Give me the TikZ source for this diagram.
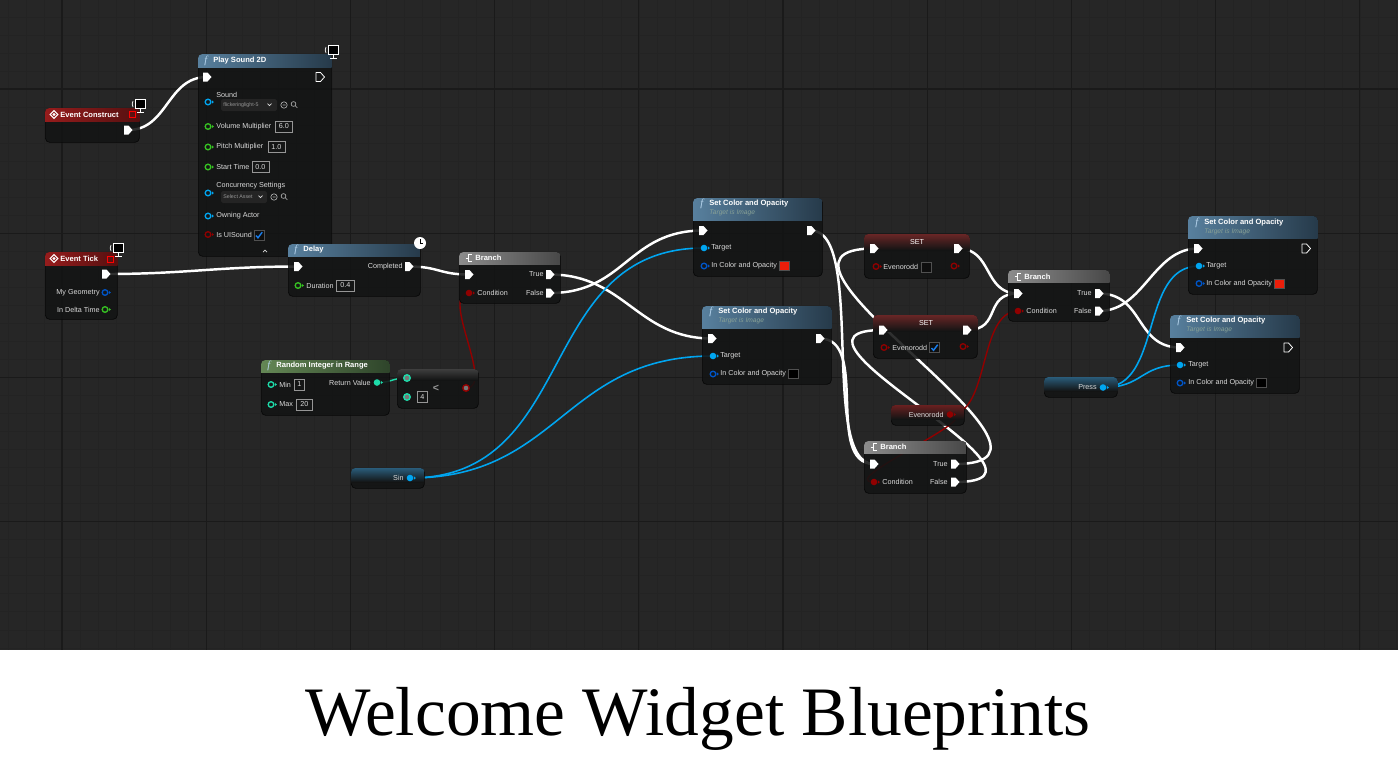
\documentclass[tikz,border=0pt]{standalone}
\usepackage{fontspec}
\setmainfont{Liberation Serif}
\newfontfamily\uifont{Liberation Sans}
\usepackage{tikz}
\usetikzlibrary{calc,positioning}
\pgfdeclarelayer{grid}
\pgfdeclarelayer{wires}
\pgfsetlayers{grid,wires,main}

\definecolor{bpbg}{RGB}{38,38,38}
\definecolor{bpminor}{RGB}{35,35,35}
\definecolor{bpmajor}{RGB}{26,26,26}
\definecolor{bpbody}{RGB}{19,20,20}
\definecolor{bpedge}{RGB}{8,8,8}
\definecolor{bptext}{RGB}{218,218,218}
\definecolor{bpsub}{RGB}{135,160,150}
\definecolor{bpval}{RGB}{150,150,150}
\definecolor{bpline}{RGB}{80,80,80}
\definecolor{bpdd}{RGB}{36,36,36}
\definecolor{bpchk}{RGB}{14,14,14}
\definecolor{fnhi}{RGB}{88,128,158}
\definecolor{fnlo}{RGB}{38,58,74}
\definecolor{fnicon}{RGB}{185,215,240}
\definecolor{evhi}{RGB}{150,28,28}
\definecolor{evlo}{RGB}{85,16,16}
\definecolor{brhi}{RGB}{140,140,140}
\definecolor{brlo}{RGB}{72,72,72}
\definecolor{mthi}{RGB}{100,135,85}
\definecolor{mtlo}{RGB}{46,68,42}
\definecolor{sethi}{RGB}{105,38,38}
\definecolor{lthi}{RGB}{62,62,62}
\definecolor{gethi}{RGB}{42,92,122}
\definecolor{geterd}{RGB}{105,32,32}
\definecolor{pinobj}{RGB}{0,165,240}
\definecolor{pinstruct}{RGB}{0,85,200}
\definecolor{pinfloat}{RGB}{55,195,35}
\definecolor{pinbool}{RGB}{145,0,0}
\definecolor{pinint}{RGB}{30,220,170}
\definecolor{pingray}{RGB}{120,120,120}
\definecolor{swred}{RGB}{235,30,10}
\definecolor{chkblue}{RGB}{25,125,235}

\newcommand{\lblfont}{\uifont\fontsize{4.1}{5}\selectfont}
\newcommand{\hdrfont}{\uifont\bfseries\fontsize{4.3}{5}\selectfont}
\newcommand{\subfont}{\uifont\itshape\fontsize{3.8}{4.5}\selectfont}
\newcommand{\ddfont}{\uifont\fontsize{3}{3.5}\selectfont}

\tikzset{
  bpnode/.style={draw=bpedge, fill=bpbody, fill opacity=0.88, rounded corners=2.5pt, inner sep=0pt, anchor=north west},
  lbl/.style={font=\lblfont, text=bptext, inner sep=0pt, anchor=west},
  lblr/.style={lbl, anchor=east},
  hdr/.style={font=\hdrfont, text=white, inner sep=0pt, anchor=west},
  subhdr/.style={font=\subfont, text=bpsub, inner sep=0pt, anchor=west},
  fn/.style={font=\itshape\fontsize{6}{6}\selectfont, text=fnicon, inner sep=0pt, anchor=west},
  valbox/.style={draw=bpval, line width=0.35pt, font=\lblfont, text=bptext, inner sep=0pt,
    minimum height=11*0.02cm, minimum width=#1*0.02cm, anchor=west},
  ddtext/.style={font=\ddfont, text=bpval, inner sep=0pt, anchor=west},
  execwire/.style={white, line width=1.4pt},
  boolwire/.style={pinbool, line width=0.8pt},
  intwire/.style={pinint, line width=0.8pt},
  objwire/.style={pinobj, line width=0.9pt},
  execpin/.pic={\fill[white] (-4,-4.5) -- (0.5,-4.5) -- (4.5,0) -- (0.5,4.5) -- (-4,4.5) -- cycle;},
  execopen/.pic={\draw[white, line width=0.45pt, line join=round] (-4,-4.5) -- (0.5,-4.5) -- (4.5,0) -- (0.5,4.5) -- (-4,4.5) -- cycle;},
  datapin/.pic={\fill[#1] (0,0) circle (3.3); \fill[#1] (3.8,-1.8) -- (5.8,0) -- (3.8,1.8) -- cycle;},
  dataopen/.pic={\draw[#1, line width=0.75pt] (0,0) circle (2.8); \fill[#1] (3.8,-1.8) -- (5.8,0) -- (3.8,1.8) -- cycle;},
  ringpin/.pic={\fill[#1] (0,0) circle (4); \fill[pingray] (0,0) circle (2.3);},
  evicon/.pic={\draw[white, line width=0.6pt] (0,-3.8) -- (3.8,0) -- (0,3.8) -- (-3.8,0) -- cycle; \fill[white] (0,-1.6) -- (1.6,0) -- (0,1.6) -- (-1.6,0) -- cycle;},
  bricon/.pic={\draw[white, line width=0.55pt] (-3.5,0) -- (-1,0) (2.5,-3.5) -- (-1,-3.5) -- (-1,3.5) -- (2.5,3.5);},
  monicon/.pic={\fill[white] (-5,-7) rectangle (6,3); \fill[black] (-3.6,-5.6) rectangle (4.6,1.6);
    \fill[white] (0,3) rectangle (1.2,5.5); \fill[white] (-3,5.5) rectangle (4.2,6.6);
    \draw[white, line width=0.4pt] (-7,-5) -- (-7.8,-2) -- (-7,1);},
  clockicon/.pic={\fill[white] (0,0) circle (6); \draw[black, line width=0.45pt] (0,-4) -- (0,0) -- (3,0);},
  chkoff/.pic={\fill[bpchk] (-5,-5) rectangle (5,5); \draw[bpline, line width=0.3pt] (-5,-5) rectangle (5,5);},
  chkon/.pic={\fill[bpchk] (-5,-5) rectangle (5,5); \draw[bpline, line width=0.3pt] (-5,-5) rectangle (5,5);
    \draw[chkblue, line width=0.8pt] (-3,0.5) -- (-1,2.8) -- (3.2,-2.8);},
  swatch/.pic={\fill[#1] (-5,-4.5) rectangle (5,4.5); \draw[bpline, line width=0.3pt] (-5,-4.5) rectangle (5,4.5);},
}

% node body and its coloured band
\newcommand{\bpbox}[5]{\node[bpnode, minimum width=#4*0.02cm, minimum height=#5*0.02cm] (#1) at (#2,#3) {};}
\newcommand{\bphead}[4]{%
  \begin{scope}
    \clip[rounded corners=2.5pt] (#1.north west) rectangle (#1.south east);
    \shade[left color=#3, right color=#4] (#1.north west) rectangle ($(#1.north east)+(0,#2)$);
  \end{scope}}
\newcommand{\bpglow}[3]{%
  \begin{scope}
    \clip[rounded corners=2.5pt] (#1.north west) rectangle (#1.south east);
    \shade[top color=#3, bottom color=bpbody] (#1.north west) rectangle ($(#1.north east)+(0,#2)$);
  \end{scope}}

\begin{document}
\begin{tikzpicture}[x=0.02cm, y=-0.02cm]
\useasboundingbox (0,0) rectangle (1398,762);

\begin{pgfonlayer}{grid}
  \fill[bpbg] (0,0) rectangle (1398,650);
  \begin{scope}
    \clip (0,0) rectangle (1398,650);
    \foreach \k in {-4,...,75} \draw[bpminor, line width=0.3pt] (62+\k*18.025,0) -- (62+\k*18.025,650);
    \foreach \k in {-5,...,32} \draw[bpminor, line width=0.3pt] (0,89+\k*18.025) -- (1398,89+\k*18.025);
    \foreach \k in {0,...,9} \draw[bpmajor, line width=0.6pt] (62+\k*144.2,0) -- (62+\k*144.2,650);
    \foreach \k in {0,...,3} \draw[bpmajor, line width=0.6pt] (0,89+\k*144.2) -- (1398,89+\k*144.2);
  \end{scope}
  \fill[white] (0,650) rectangle (1398,762);
\end{pgfonlayer}

% Event Construct
\bpbox{evc}{45}{108}{94}{34}
\bphead{evc}{13}{evhi}{evlo}
\pic at (54,114.5) {evicon};
\node[hdr] at (60,114.5) {Event Construct};
\draw[red, line width=0.5pt] (129,111.5) rectangle (135,117.5);
\pic at (140,106) {monicon};
\coordinate (evc-out) at (128,130); \pic at (evc-out) {execpin};

% Play Sound 2D
\bpbox{ps}{198}{54}{133}{202}
\bphead{ps}{13}{fnhi}{fnlo}
\node[fn] at (204,60.5) {f};
\node[hdr] at (213,60.5) {Play Sound 2D};
\pic at (333,52) {monicon};
\coordinate (ps-in) at (207,77); \pic at (ps-in) {execpin};
\pic at (320,77) {execopen};
\node[lbl] at (216,94.5) {Sound};
\pic at (208,102) {dataopen=pinobj};
\fill[bpdd, rounded corners=1pt] (221,99) rectangle (277,111);
\node[ddtext] at (223,105) {flickeringlight-5};
\draw[bptext, line width=0.4pt] (267.5,103.5) -- (269.5,105.5) -- (271.5,103.5);
\draw[bpval!70, line width=0.35pt] (284,105) circle (3.2) (282.5,105) -- (285.5,105);
\draw[bpval!70, line width=0.35pt] (293.5,104) circle (2.4) (295.3,105.8) -- (297.3,107.8);
\pic at (208,126.5) {dataopen=pinfloat};
\node[lbl] at (216,126.5) {Volume Multiplier};
\node[valbox=17] at (275,126.5) {6.0};
\pic at (208,147) {dataopen=pinfloat};
\node[lbl] at (216,147) {Pitch Multiplier};
\node[valbox=17] at (267.5,147) {1.0};
\pic at (208,167) {dataopen=pinfloat};
\node[lbl] at (216,167) {Start Time};
\node[valbox=17] at (251.5,167) {0.0};
\node[lbl] at (216,186) {Concurrency Settings};
\pic at (208,193) {dataopen=pinobj};
\fill[bpdd, rounded corners=1pt] (221,191) rectangle (267,203);
\node[ddtext] at (223,197) {Select Asset};
\draw[bptext, line width=0.4pt] (258.5,195.5) -- (260.5,197.5) -- (262.5,195.5);
\draw[bpval!70, line width=0.35pt] (274,197) circle (3.2) (272.5,197) -- (275.5,197);
\draw[bpval!70, line width=0.35pt] (283.5,196) circle (2.4) (285.3,197.8) -- (287.3,199.8);
\pic at (208,216) {dataopen=pinobj};
\node[lbl] at (216,216) {Owning Actor};
\pic at (208,234.5) {dataopen=pinbool};
\node[lbl] at (216,234.5) {Is UISound};
\pic at (259,235) {chkon};
\draw[bptext, line width=0.4pt] (263,252) -- (265,250) -- (267,252);

% Event Tick
\bpbox{evt}{45}{252}{72}{67}
\bphead{evt}{13}{evhi}{evlo}
\pic at (54,258.5) {evicon};
\node[hdr] at (60,258.5) {Event Tick};
\draw[red, line width=0.5pt] (107,256) rectangle (113,262);
\pic at (118,250) {monicon};
\coordinate (evt-out) at (106,274); \pic at (evt-out) {execpin};
\node[lblr] at (100,292.5) {My Geometry};
\pic at (105,292.5) {dataopen=pinstruct};
\node[lblr] at (100,309.5) {In Delta Time};
\pic at (105,309.5) {dataopen=pinfloat};

% Delay
\bpbox{dl}{288}{244}{132}{52}
\bphead{dl}{12}{fnhi}{fnlo}
\node[fn] at (294,250) {f};
\node[hdr] at (303,250) {Delay};
\pic at (420,243) {clockicon};
\coordinate (dl-in) at (298,266.5); \pic at (dl-in) {execpin};
\node[lblr] at (403,266.5) {Completed};
\coordinate (dl-out) at (409,266.5); \pic at (dl-out) {execpin};
\pic at (298,285.5) {dataopen=pinfloat};
\node[lbl] at (306,285.5) {Duration};
\node[valbox=18] at (336,285.5) {0.4};

% Branch after Delay
\bpbox{br1}{459}{252}{101}{51}
\bphead{br1}{12}{brhi}{brlo}
\pic at (469,258) {bricon};
\node[hdr] at (475,258) {Branch};
\coordinate (br1-in) at (469,274.5); \pic at (br1-in) {execpin};
\node[lblr] at (544,274.5) {True};
\coordinate (br1-true) at (550,274.5); \pic at (br1-true) {execpin};
\coordinate (br1-cond) at (469,293); \pic at (br1-cond) {datapin=pinbool};
\node[lbl] at (477,293) {Condition};
\node[lblr] at (544,293) {False};
\coordinate (br1-false) at (550,293); \pic at (br1-false) {execpin};

% Random Integer in Range
\bpbox{ri}{261}{360}{128}{55}
\bphead{ri}{12}{mthi}{mtlo}
\node[fn] at (267,366) {f};
\node[hdr] at (276,366) {Random Integer in Range};
\pic at (271,384.5) {dataopen=pinint};
\node[lbl] at (279,384.5) {Min};
\node[valbox=10] at (294,384.5) {1};
\pic at (271,404.5) {dataopen=pinint};
\node[lbl] at (279,404.5) {Max};
\node[valbox=16] at (296,404.5) {20};
\node[lblr] at (371,382.5) {Return Value};
\coordinate (ri-out) at (377,382.5); \pic at (ri-out) {datapin=pinint};

% less than
\bpbox{lt}{397}{369}{81}{39}
\bpglow{lt}{11}{lthi}
\coordinate (lt-a) at (407,378); \pic at (lt-a) {ringpin=pinint};
\pic at (407,397) {ringpin=pinint};
\node[valbox=10] at (417,397) {4};
\node[font=\uifont\bfseries\fontsize{6}{6}\selectfont, text=bpval, inner sep=0pt] at (436,388) {<};
\coordinate (lt-out) at (466,388); \pic at (lt-out) {ringpin=pinbool};

% Sin variable
\bpbox{sin}{351}{468}{73}{20}
\bpglow{sin}{14}{gethi}
\node[lblr] at (404,478) {Sin};
\coordinate (sin-out) at (410,478); \pic at (sin-out) {datapin=pinobj};

% Set Color and Opacity, top
\bpbox{sco1}{693}{198}{129}{78}
\bphead{sco1}{22}{fnhi}{fnlo}
\node[fn] at (700,204) {f};
\node[hdr] at (709,204) {Set Color and Opacity};
\node[subhdr] at (709,213) {Target is Image};
\coordinate (sco1-in) at (703,230.5); \pic at (sco1-in) {execpin};
\coordinate (sco1-out) at (811,230.5); \pic at (sco1-out) {execpin};
\coordinate (sco1-tgt) at (704,248); \pic at (sco1-tgt) {datapin=pinobj};
\node[lbl] at (711,248) {Target};
\pic at (704,266) {dataopen=pinstruct};
\node[lbl] at (711,266) {In Color and Opacity};
\pic at (784,266) {swatch=swred};

% Set Color and Opacity, bottom
\bpbox{sco2}{702}{306}{129}{78}
\bphead{sco2}{22}{fnhi}{fnlo}
\node[fn] at (709,312) {f};
\node[hdr] at (718,312) {Set Color and Opacity};
\node[subhdr] at (718,321) {Target is Image};
\coordinate (sco2-in) at (712,338.5); \pic at (sco2-in) {execpin};
\coordinate (sco2-out) at (820,338.5); \pic at (sco2-out) {execpin};
\coordinate (sco2-tgt) at (713,356); \pic at (sco2-tgt) {datapin=pinobj};
\node[lbl] at (720,356) {Target};
\pic at (713,374) {dataopen=pinstruct};
\node[lbl] at (720,374) {In Color and Opacity};
\pic at (793.5,374) {swatch=black};

% SET false
\bpbox{set1}{864}{234}{105}{44}
\bpglow{set1}{16}{sethi}
\node[hdr, anchor=center, font=\lblfont] at (917,242) {SET};
\coordinate (set1-in) at (874,248.5); \pic at (set1-in) {execpin};
\coordinate (set1-out) at (958,248.5); \pic at (set1-out) {execpin};
\pic at (876,266.5) {dataopen=pinbool};
\node[lbl] at (883,266.5) {Evenorodd};
\pic at (926,267) {chkoff};
\pic at (954,266) {dataopen=pinbool};

% SET true
\bpbox{set2}{873}{315}{104}{43}
\bpglow{set2}{16}{sethi}
\node[hdr, anchor=center, font=\lblfont] at (926,323.5) {SET};
\coordinate (set2-in) at (883,330); \pic at (set2-in) {execpin};
\coordinate (set2-out) at (967,330); \pic at (set2-out) {execpin};
\pic at (884,347.5) {dataopen=pinbool};
\node[lbl] at (892,347.5) {Evenorodd};
\pic at (934.5,347.5) {chkon};
\pic at (963,346.5) {dataopen=pinbool};

% Evenorodd variable
\bpbox{eo}{891}{405}{73}{20}
\bpglow{eo}{14}{geterd}
\node[lblr] at (944,414.5) {Evenorodd};
\coordinate (eo-out) at (950,414.5); \pic at (eo-out) {datapin=pinbool};

% Branch on Evenorodd
\bpbox{br3}{864}{441}{102}{52}
\bphead{br3}{12}{brhi}{brlo}
\pic at (874,447) {bricon};
\node[hdr] at (880,447) {Branch};
\coordinate (br3-in) at (874,464); \pic at (br3-in) {execpin};
\node[lblr] at (948,464) {True};
\coordinate (br3-true) at (955,464); \pic at (br3-true) {execpin};
\coordinate (br3-cond) at (874,482); \pic at (br3-cond) {datapin=pinbool};
\node[lbl] at (882,482) {Condition};
\node[lblr] at (948,482) {False};
\coordinate (br3-false) at (955,482); \pic at (br3-false) {execpin};

% Branch after SET
\bpbox{br4}{1008}{270}{101}{51}
\bphead{br4}{12}{brhi}{brlo}
\pic at (1018,276.5) {bricon};
\node[hdr] at (1024,276.5) {Branch};
\coordinate (br4-in) at (1018,293.5); \pic at (br4-in) {execpin};
\node[lblr] at (1092,293.5) {True};
\coordinate (br4-true) at (1099,293.5); \pic at (br4-true) {execpin};
\coordinate (br4-cond) at (1018,311); \pic at (br4-cond) {datapin=pinbool};
\node[lbl] at (1026,311) {Condition};
\node[lblr] at (1092,311) {False};
\coordinate (br4-false) at (1099,311); \pic at (br4-false) {execpin};

% Set Color and Opacity, right top
\bpbox{sco3}{1188}{216}{129}{78}
\bphead{sco3}{22}{fnhi}{fnlo}
\node[fn] at (1195,222.5) {f};
\node[hdr] at (1204,222.5) {Set Color and Opacity};
\node[subhdr] at (1204,231.5) {Target is Image};
\coordinate (sco3-in) at (1198,248.5); \pic at (sco3-in) {execpin};
\pic at (1306,248.5) {execopen};
\coordinate (sco3-tgt) at (1199,266); \pic at (sco3-tgt) {datapin=pinobj};
\node[lbl] at (1206,266) {Target};
\pic at (1199,283.5) {dataopen=pinstruct};
\node[lbl] at (1206,283.5) {In Color and Opacity};
\pic at (1279,283.5) {swatch=swred};

% Set Color and Opacity, right bottom
\bpbox{sco4}{1170}{315}{129}{78}
\bphead{sco4}{22}{fnhi}{fnlo}
\node[fn] at (1177,321) {f};
\node[hdr] at (1186,321) {Set Color and Opacity};
\node[subhdr] at (1186,330) {Target is Image};
\coordinate (sco4-in) at (1180,347.5); \pic at (sco4-in) {execpin};
\pic at (1288,347.5) {execopen};
\coordinate (sco4-tgt) at (1180,365); \pic at (sco4-tgt) {datapin=pinobj};
\node[lbl] at (1188,365) {Target};
\pic at (1180,383) {dataopen=pinstruct};
\node[lbl] at (1188,383) {In Color and Opacity};
\pic at (1261.5,382.5) {swatch=black};

% Press variable
\bpbox{press}{1044}{377}{73}{20}
\bpglow{press}{14}{gethi}
\node[lblr] at (1097,387.5) {Press};
\coordinate (press-out) at (1103,387.5); \pic at (press-out) {datapin=pinobj};

% wires
\begin{pgfonlayer}{wires}
  \draw[execwire] (evc-out) .. controls +(40,0) and +(-40,0) .. (ps-in);
  \draw[execwire] (evt-out) .. controls +(80,0) and +(-80,0) .. (dl-in);
  \draw[execwire] (dl-out) .. controls +(30,0) and +(-30,0) .. (br1-in);
  \draw[execwire] (br1-true) .. controls +(75,0) and +(-75,0) .. (sco2-in);
  \draw[execwire] (br1-false) .. controls +(75,0) and +(-75,0) .. (sco1-in);
  \draw[execwire] (sco1-out) .. controls +(55,0) and +(-55,0) .. (br3-in);
  \draw[execwire] (sco2-out) .. controls +(50,0) and +(-50,0) .. (br3-in);
  \draw[execwire] (br3-true) .. controls +(150,0) and +(-150,0) .. (set1-in);
  \draw[execwire] (br3-false) .. controls +(130,0) and +(-130,0) .. (set2-in);
  \draw[execwire] (set1-out) .. controls +(35,0) and +(-35,0) .. (br4-in);
  \draw[execwire] (set2-out) .. controls +(35,0) and +(-35,0) .. (br4-in);
  \draw[execwire] (br4-true) .. controls +(45,0) and +(-45,0) .. (sco4-in);
  \draw[execwire] (br4-false) .. controls +(45,0) and +(-45,0) .. (sco3-in);
  \draw[boolwire] (lt-out) .. controls +(30,0) and +(-30,0) .. (br1-cond);
  \draw[boolwire] (eo-out) .. controls +(40,0) and +(-40,0) .. (br4-cond);
  \draw[boolwire] (eo-out) .. controls +(40,0) and +(-40,0) .. (br3-cond);
  \draw[intwire] (ri-out) .. controls +(15,0) and +(-15,0) .. (lt-a);
  \draw[objwire] (sin-out) .. controls +(170,0) and +(-170,0) .. (sco1-tgt);
  \draw[objwire] (sin-out) .. controls +(150,0) and +(-150,0) .. (sco2-tgt);
  \draw[objwire] (press-out) .. controls +(60,0) and +(-60,0) .. (sco3-tgt);
  \draw[objwire] (press-out) .. controls +(40,0) and +(-40,0) .. (sco4-tgt);
\end{pgfonlayer}

\node[font=\fontsize{39.5}{47}\selectfont, anchor=base, inner sep=0pt] (title) at (698,735) {Welcome Widget Blueprints};
\end{tikzpicture}
\end{document}
